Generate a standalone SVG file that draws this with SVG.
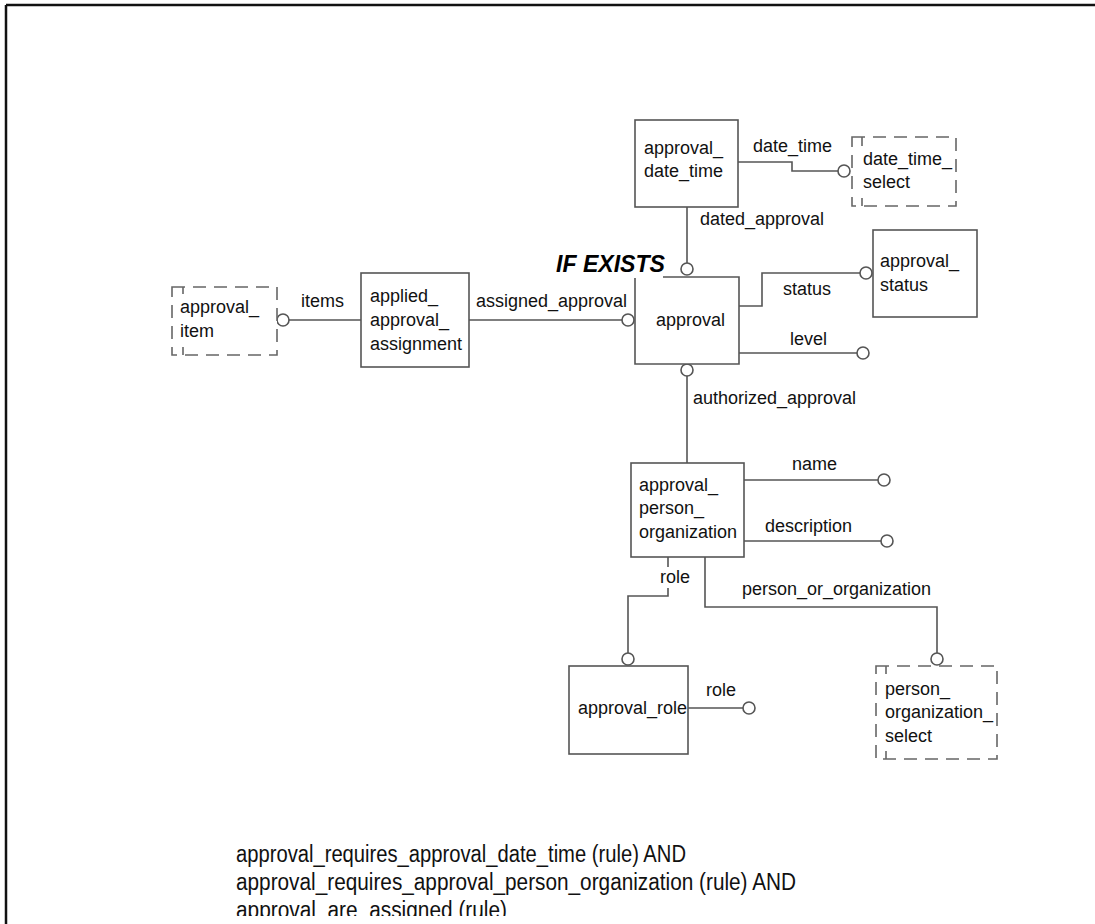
<svg xmlns="http://www.w3.org/2000/svg" width="1095" height="924" viewBox="0 0 1095 924">
  <defs>
    <style>
      .box { fill: #fff; stroke: #555; stroke-width: 1.6; }
      .sel { fill: #fff; stroke: #666; stroke-width: 1.6; stroke-dasharray: 13 8; }
      .tick { stroke: #666; stroke-width: 1.6; fill: none; }
      .ln { fill: none; stroke: #555; stroke-width: 1.6; }
      .rc { fill: #fff; stroke: #555; stroke-width: 1.6; }
      .t { font-family: "Liberation Sans", Arial, sans-serif; font-size: 18px; fill: #111; }
      .rule { font-family: "Liberation Sans", Arial, sans-serif; font-size: 23px; fill: #111; }
      .ifx { font-family: "Liberation Sans", Arial, sans-serif; font-size: 24px; font-weight: bold; font-style: italic; fill: #000; }
    </style>
    <clipPath id="pageClip">
      <rect x="0" y="0" width="1095" height="916"/>
    </clipPath>
  </defs>

  <rect x="0" y="0" width="1095" height="924" fill="#fff"/>
  <!-- page frame -->
  <line x1="6" y1="5" x2="1095" y2="5" stroke="#111" stroke-width="2.5"/>
  <line x1="6" y1="5" x2="6" y2="924" stroke="#111" stroke-width="2.5"/>

  <!-- connectors -->
  <g id="connectors">
    <path class="ln" d="M738,162 H792 V171 H838"/>
    <circle class="rc" cx="844" cy="171" r="6"/>
    <path class="ln" d="M687,207 V263"/>
    <circle class="rc" cx="687" cy="269" r="6"/>
    <path class="ln" d="M469,320 H622"/>
    <circle class="rc" cx="628" cy="320" r="6"/>
    <path class="ln" d="M289,320 H361"/>
    <circle class="rc" cx="283" cy="320" r="6"/>
    <path class="ln" d="M739,306 H762 V273 H860"/>
    <circle class="rc" cx="866" cy="273" r="6"/>
    <path class="ln" d="M739,353 H857"/>
    <circle class="rc" cx="863" cy="353" r="6"/>
    <path class="ln" d="M687,376 V463"/>
    <circle class="rc" cx="687" cy="370" r="6"/>
    <path class="ln" d="M744,480 H878"/>
    <circle class="rc" cx="884" cy="480" r="6"/>
    <path class="ln" d="M744,541 H881"/>
    <circle class="rc" cx="887" cy="541" r="6"/>
    <path class="ln" d="M668,557 V567 M668,588 V596 H628 V653"/>
    <circle class="rc" cx="628" cy="659" r="6"/>
    <path class="ln" d="M705,557 V607 H937 V653"/>
    <circle class="rc" cx="937" cy="659" r="6"/>
    <path class="ln" d="M688,708 H743"/>
    <circle class="rc" cx="749" cy="708" r="6"/>

    <text class="t" x="753" y="152">date_time</text>
    <text class="t" x="700" y="225">dated_approval</text>
    <text class="t" x="783" y="295">status</text>
    <text class="t" x="790" y="345">level</text>
    <text class="t" x="693" y="404">authorized_approval</text>
    <text class="t" x="301" y="307">items</text>
    <text class="t" x="476" y="307">assigned_approval</text>
    <text class="t" x="792" y="470">name</text>
    <text class="t" x="765" y="532">description</text>
    <text class="t" x="660" y="583">role</text>
    <text class="t" x="742" y="595">person_or_organization</text>
    <text class="t" x="706" y="696">role</text>
  </g>

  <g id="approval_date_time">
    <rect class="box" x="635" y="120" width="103" height="87"/>
    <text class="t" x="644" y="154">approval_</text>
    <text class="t" x="644" y="177">date_time</text>
  </g>

  <g id="date_time_select">
    <rect class="sel" x="852" y="137" width="104" height="69"/>
    <path class="tick" d="M862,137 V146 M862,198 V206"/>
    <text class="t" x="863" y="165">date_time_</text>
    <text class="t" x="863" y="188">select</text>
  </g>

  <g id="approval">
    <path class="box" d="M663,277 H739 V364 H635 V278"/>
    <text class="t" x="656" y="326">approval</text>
    <text class="ifx" x="556" y="272" textLength="109" lengthAdjust="spacingAndGlyphs">IF EXISTS</text>
  </g>

  <g id="approval_status">
    <rect class="box" x="873" y="230" width="104" height="87"/>
    <text class="t" x="880" y="267">approval_</text>
    <text class="t" x="880" y="291">status</text>
  </g>

  <g id="applied_approval_assignment">
    <rect class="box" x="361" y="273" width="108" height="94"/>
    <text class="t" x="370" y="302">applied_</text>
    <text class="t" x="370" y="326">approval_</text>
    <text class="t" x="370" y="350">assignment</text>
  </g>

  <g id="approval_item">
    <rect class="sel" x="172" y="287" width="105" height="68"/>
    <path class="tick" d="M183,287 V294 M183,347 V355"/>
    <text class="t" x="180" y="313">approval_</text>
    <text class="t" x="180" y="337">item</text>
  </g>

  <g id="approval_person_organization">
    <rect class="box" x="631" y="463" width="113" height="94"/>
    <text class="t" x="639" y="491">approval_</text>
    <text class="t" x="639" y="514">person_</text>
    <text class="t" x="639" y="538">organization</text>
  </g>

  <g id="approval_role">
    <rect class="box" x="569" y="666" width="119" height="88"/>
    <text class="t" x="578" y="714">approval_role</text>
  </g>

  <g id="person_organization_select">
    <rect class="sel" x="876" y="666" width="121" height="93"/>
    <path class="tick" d="M886,666 V674 M886,751 V759"/>
    <text class="t" x="885" y="695">person_</text>
    <text class="t" x="885" y="718">organization_</text>
    <text class="t" x="885" y="742">select</text>
  </g>

  <!-- rule conditions -->
  <g id="rules" clip-path="url(#pageClip)">
    <text class="rule" x="236" y="862" textLength="450" lengthAdjust="spacingAndGlyphs">approval_requires_approval_date_time (rule) AND</text>
    <text class="rule" x="236" y="890" textLength="560" lengthAdjust="spacingAndGlyphs">approval_requires_approval_person_organization (rule) AND</text>
    <text class="rule" x="236" y="918" textLength="271" lengthAdjust="spacingAndGlyphs">approval_are_assigned (rule)</text>
  </g>
</svg>
